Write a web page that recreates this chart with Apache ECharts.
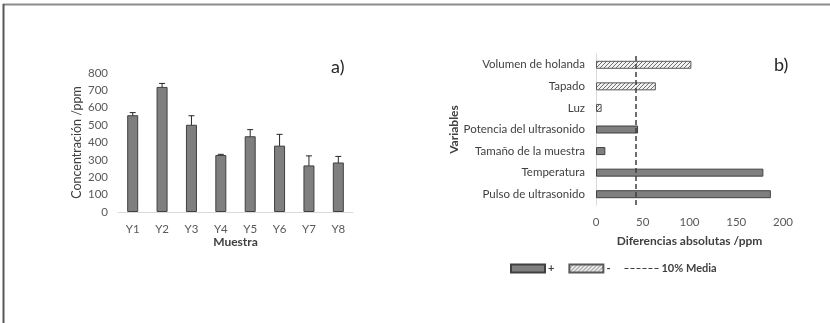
<!DOCTYPE html>
<html><head><meta charset="utf-8">
<script src="https://cdn.jsdelivr.net/npm/echarts@6/dist/echarts.min.js"></script>
<style>html,body{margin:0;padding:0;background:#fff}#c{width:830px;height:323px}</style>
</head><body><div id="c"></div>
<script>
// ---- data ----
const samples = ['Y1','Y2','Y3','Y4','Y5','Y6','Y7','Y8'];
const concentration = [557, 720, 502, 328, 436, 382, 268, 285];
const concErr = [15, 20, 52, 4, 38, 65, 55, 35];
const concTicks = [0,100,200,300,400,500,600,700,800];

const variables = ['Pulso de ultrasonido','Temperatura','Tamaño de la muestra','Potencia del ultrasonido','Luz','Tapado','Volumen de holanda'];
const effectPlus = [187, 179, 10, 45, '-', '-', '-'];
const effectMinus = ['-', '-', '-', '-', 6, 64, 102];
const tenPctMean = 43;
const diffTicks = [0,50,100,150,200];

const FONT = 'Lato';
const chart = echarts.init(document.getElementById('c'));

function hatch(){
  const n = 4;
  const c = document.createElement('canvas'); c.width = n; c.height = n;
  const g = c.getContext('2d');
  g.fillStyle = '#f2f2f2'; g.fillRect(0,0,n,n);
  g.strokeStyle = '#6e6e6e'; g.lineWidth = 1;
  g.beginPath(); g.moveTo(0,n); g.lineTo(n,0); g.moveTo(-1,1); g.lineTo(1,-1); g.moveTo(n-1,n+1); g.lineTo(n+1,n-1); g.stroke();
  return {image: c, repeat: 'repeat'};
}

const tickLabel = {color:'#595959', fontSize:11.5, fontFamily:FONT};
const nameStyle = {color:'#404040', fontSize:12, fontWeight:'bold', fontFamily:FONT};

chart.setOption({
  animation:false,
  textStyle:{fontFamily:FONT},
  graphic:[
    {type:'line', shape:{x1:3,y1:4.5,x2:830,y2:4.5}, style:{stroke:'#8c8c8c', lineWidth:2}},
    {type:'line', shape:{x1:3.5,y1:4,x2:3.5,y2:323}, style:{stroke:'#595959', lineWidth:2}},
    {type:'text', left:331, top:58, style:{text:'a)', fontSize:18, fill:'#262626', fontFamily:FONT}},
    {type:'text', left:774, top:56, style:{text:'b)', fontSize:18, fill:'#262626', fontFamily:FONT}}
  ],
  grid:[
    {left:118, right:477, top:73, bottom:111},
    {left:596, right:47, top:54, bottom:118}
  ],
  xAxis:[
    {gridIndex:0, type:'category', data:samples,
     axisLine:{lineStyle:{color:'#d9d9d9'}}, axisTick:{show:false},
     axisLabel:Object.assign({margin:11}, tickLabel),
     name:'Muestra', nameLocation:'middle', nameGap:24, nameTextStyle:nameStyle},
    {gridIndex:1, type:'value', min:diffTicks[0], max:diffTicks[diffTicks.length-1], interval:50,
     splitLine:{show:false}, axisLine:{show:false}, axisTick:{show:false},
     axisLabel:Object.assign({margin:11}, tickLabel),
     name:'Diferencias absolutas /ppm', nameLocation:'middle', nameGap:30, nameTextStyle:nameStyle}
  ],
  yAxis:[
    {gridIndex:0, type:'value', min:concTicks[0], max:concTicks[concTicks.length-1], interval:100,
     splitLine:{show:false}, axisLine:{show:false}, axisTick:{show:false},
     axisLabel:Object.assign({margin:10}, tickLabel),
     name:'Concentración /ppm', nameLocation:'middle', nameRotate:90, nameGap:35,
     nameTextStyle:{color:'#404040', fontSize:12.5, fontFamily:FONT}},
    {gridIndex:1, type:'category', data:variables,
     axisLine:{lineStyle:{color:'#d9d9d9'}}, axisTick:{show:false},
     axisLabel:Object.assign({margin:11}, tickLabel, {color:'#404040'}),
     name:'Variables', nameLocation:'middle', nameRotate:90, nameGap:134, nameTextStyle:nameStyle}
  ],
  legend:{
    left:505, top:258, itemWidth:34, itemHeight:8, itemGap:14,
    textStyle:{color:'#404040', fontSize:11, fontWeight:'bold', fontFamily:FONT, padding:[0,0,0,-2]},
    data:[{name:'+', icon:'rect'},{name:'-', icon:'rect'},{name:'10% Media', icon:'path://M0,0L4,0L4,1L0,1Z M6,0L10,0L10,1L6,1Z M12,0L16,0L16,1L12,1Z M18,0L22,0L22,1L18,1Z M24,0L28,0L28,1L24,1Z M30,0L34,0L34,1L30,1Z', itemStyle:{color:'#404040'}}]
  },
  series:[
    {type:'bar', xAxisIndex:0, yAxisIndex:0, data:concentration, barWidth:11,
     itemStyle:{color:'#7f7f7f', borderColor:'#404040', borderWidth:1}},
    {type:'custom', xAxisIndex:0, yAxisIndex:0,
     data:concentration.map((v,i)=>[i, v-concErr[i], v+concErr[i]]),
     renderItem:function(params, api){
       const lo = api.coord([api.value(0), api.value(1)]);
       const hi = api.coord([api.value(0), api.value(2)]);
       const w = 3;
       const st = {stroke:'#262626', lineWidth:1};
       return {type:'group', children:[
         {type:'line', shape:{x1:lo[0],y1:lo[1],x2:hi[0],y2:hi[1]}, style:st},
         {type:'line', shape:{x1:hi[0]-w,y1:hi[1],x2:hi[0]+w,y2:hi[1]}, style:st},
         {type:'line', shape:{x1:lo[0]-w,y1:lo[1],x2:lo[0]+w,y2:lo[1]}, style:st}
       ]};
     }},
    {name:'+', type:'bar', xAxisIndex:1, yAxisIndex:1, stack:'e', data:effectPlus, barWidth:8,
     itemStyle:{color:'#7f7f7f', borderColor:'#404040', borderWidth:1}},
    {name:'-', type:'bar', xAxisIndex:1, yAxisIndex:1, stack:'e', data:effectMinus, barWidth:8,
     itemStyle:{color:hatch(), borderColor:'#595959', borderWidth:1}},
    {name:'10% Media', type:'line', xAxisIndex:1, yAxisIndex:1, data:[], symbol:'none',
     lineStyle:{color:'#404040', type:'dashed', width:1.5},
     markLine:{silent:true, symbol:'none', label:{show:false},
       lineStyle:{color:'#404040', type:[5,3], width:1.5},
       data:[{xAxis:tenPctMean}]}}
  ]
});
</script></body></html>
